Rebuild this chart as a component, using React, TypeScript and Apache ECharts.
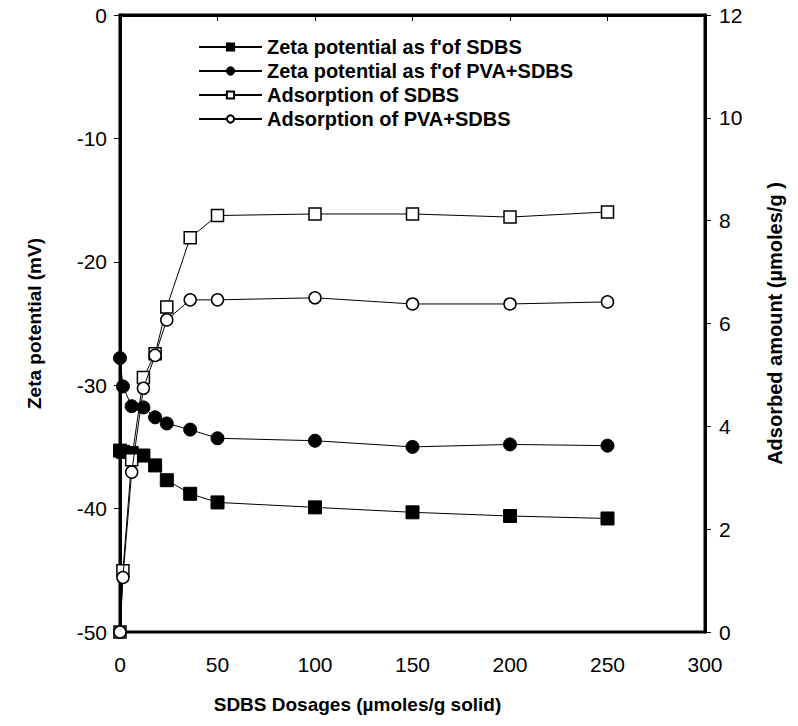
import React, { useEffect, useRef } from "react";
import * as echarts from "echarts";

const dosageZeta = [0, 1.5, 6, 12, 18, 24, 36, 50, 100, 150, 200, 250];
const zetaSDBS = [-35.3, -35.4, -35.5, -35.7, -36.5, -37.7, -38.8, -39.5, -39.9, -40.3, -40.6, -40.8];
const zetaPVASDBS = [-27.8, -30.1, -31.7, -31.8, -32.6, -33.1, -33.6, -34.3, -34.5, -35.0, -34.8, -34.9];
const dosageAds = [0, 1.5, 6, 12, 18, 24, 36, 50, 100, 150, 200, 250];
const adsSDBS = [0, 1.19, 3.35, 4.95, 5.41, 6.32, 7.67, 8.1, 8.13, 8.13, 8.07, 8.17];
const adsPVASDBS = [0, 1.06, 3.11, 4.74, 5.38, 6.07, 6.46, 6.46, 6.5, 6.38, 6.38, 6.42];

const seriesNames = [
  "Zeta potential as f'of SDBS",
  "Zeta potential as f'of PVA+SDBS",
  "Adsorption of SDBS",
  "Adsorption of PVA+SDBS",
];

const FONT = "Liberation Sans, Arial, sans-serif";

export default function App() {
  const ref = useRef<HTMLDivElement>(null);
  useEffect(() => {
    if (!ref.current) return;
    const chart = echarts.init(ref.current, null, { renderer: "svg" });
    const zip = (xs: number[], ys: number[]) => xs.map((x, i) => [x, ys[i]]);
    const lineStyle = { color: "#000", width: 1 };
    const nameStyle = { fontFamily: FONT, fontWeight: "bold", fontSize: 19, color: "#000" };
    const tickLabel = { fontFamily: FONT, fontSize: 21, color: "#000" };
    chart.setOption({
      animation: false,
      backgroundColor: "#fff",
      textStyle: { fontFamily: FONT },
      grid: {
        left: 120,
        right: 93,
        top: 15,
        bottom: 94,
        show: true,
        borderColor: "#000",
        borderWidth: 3,
        backgroundColor: "transparent",
      },
      legend: {
        orient: "vertical",
        left: 193,
        top: 32,
        itemGap: 4,
        itemWidth: 63,
        itemHeight: 9,
        data: seriesNames,
        textStyle: { fontFamily: FONT, fontWeight: "bold", fontSize: 20, color: "#000" },
      },
      xAxis: {
        type: "value",
        min: 0,
        max: 300,
        interval: 50,
        name: "SDBS Dosages (µmoles/g solid)",
        nameLocation: "middle",
        nameGap: 63,
        nameTextStyle: { ...nameStyle, padding: [0, 110, 0, 0] },
        axisLine: { show: true, lineStyle: { color: "#000", width: 3 } },
        axisTick: { show: true, inside: false, length: 6, lineStyle: { color: "#000", width: 1 } },
        axisLabel: { ...tickLabel, margin: 22 },
        splitLine: { show: false },
      },
      yAxis: [
        {
          type: "value",
          min: -50,
          max: 0,
          interval: 10,
          position: "left",
          name: "Zeta potential (mV)",
          nameLocation: "middle",
          nameGap: 76,
          nameRotate: 90,
          nameTextStyle: nameStyle,
          axisLine: { show: true, lineStyle: { color: "#000", width: 3 } },
          axisTick: { show: true, inside: false, length: 6, lineStyle: { color: "#000", width: 1 } },
          axisLabel: { ...tickLabel, margin: 13 },
          splitLine: { show: false },
        },
        {
          type: "value",
          min: 0,
          max: 12,
          interval: 2,
          position: "right",
          name: "Adsorbed amount (µmoles/g )",
          nameLocation: "middle",
          nameGap: 60,
          nameRotate: 90,
          nameTextStyle: { ...nameStyle, fontSize: 20 },
          axisLine: { show: true, lineStyle: { color: "#000", width: 3 } },
          axisTick: { show: true, inside: false, length: 6, lineStyle: { color: "#000", width: 1 } },
          axisLabel: { ...tickLabel, margin: 14 },
          splitLine: { show: false },
        },
      ],
      series: [
        {
          name: seriesNames[0],
          type: "line",
          yAxisIndex: 0,
          data: zip(dosageZeta, zetaSDBS),
          symbol: "rect",
          symbolSize: 13,
          itemStyle: { color: "#000", borderColor: "#000", borderWidth: 1 },
          lineStyle,
          z: 3,
        },
        {
          name: seriesNames[1],
          type: "line",
          yAxisIndex: 0,
          data: zip(dosageZeta, zetaPVASDBS),
          symbol: "circle",
          symbolSize: 13,
          itemStyle: { color: "#000", borderColor: "#000", borderWidth: 1 },
          lineStyle,
          z: 3,
        },
        {
          name: seriesNames[2],
          type: "line",
          yAxisIndex: 1,
          data: zip(dosageAds, adsSDBS),
          symbol: "rect",
          symbolSize: 12,
          showAllSymbol: true,
          itemStyle: { color: "#fff", borderColor: "#000", borderWidth: 1.5 },
          lineStyle,
          z: 4,
        },
        {
          name: seriesNames[3],
          type: "line",
          yAxisIndex: 1,
          data: zip(dosageAds, adsPVASDBS),
          symbol: "circle",
          symbolSize: 12,
          showAllSymbol: true,
          itemStyle: { color: "#fff", borderColor: "#000", borderWidth: 1.5 },
          lineStyle,
          z: 5,
        },
      ],
    });
    return () => chart.dispose();
  }, []);
  return <div ref={ref} style={{ width: 798, height: 726, position: "absolute", left: 0, top: 0 }} />;
}
